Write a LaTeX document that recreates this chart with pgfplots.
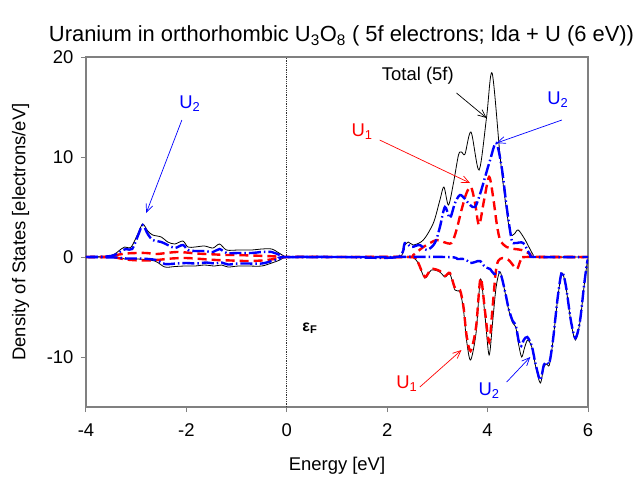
\documentclass[border=0pt]{standalone}
\usepackage{fontspec}
\setmainfont{Liberation Sans}
\usepackage{pgfplots}
\pgfplotsset{compat=1.18}
\usetikzlibrary{arrows.meta}
\definecolor{frame}{RGB}{128,128,128}
\definecolor{uone}{RGB}{255,0,0}
\definecolor{utwo}{RGB}{0,0,255}
\newcommand{\lbl}{\fontsize{18.5}{22}\selectfont}
\tikzset{note/.style={-{Straight Barb[length=8bp,width=7bp]}, line width=0.7bp}}

\begin{document}
\begin{tikzpicture}
\begin{axis}[
    scale only axis, width=502bp, height=350bp,
    xmin=-4, xmax=6, ymin=-15, ymax=20,
    xtick={-4,-2,0,2,4,6}, xticklabels={-4,-2,0,2,4,6},
    ytick={-10,0,10,20}, yticklabels={-10,0,10,20},
    tick pos=left, tick align=outside, major tick length=5bp,
    axis line style={frame, line width=1.2bp},
    every tick/.style={frame, line width=1bp},
    tick label style={font=\lbl},
    xticklabel style={yshift=-8bp},
    yticklabel style={xshift=-4bp},
    xlabel={Energy [eV]},
    ylabel={Density of States [electrons/eV]},
    every axis x label/.style={at={(axis description cs:0.5,-0.169)}, anchor=center, font=\lbl},
    every axis y label/.style={at={(axis description cs:-0.130,0.5)}, anchor=center, rotate=90, font=\lbl},
    title={Uranium in orthorhombic U\textsubscript{3}O\textsubscript{8} ( 5f electrons; lda + U (6 eV))},
    every axis title/.style={at={(axis description cs:0.509,1.06)}, anchor=center, font=\fontsize{22}{26}\selectfont},
    totalline/.style={black, line width=0.8bp, smooth, no marks},
    uoneline/.style={uone, line width=2.4bp, dash pattern=on 9bp off 5bp, smooth, no marks},
    utwoline/.style={utwo, line width=2.4bp, dash pattern=on 12bp off 3bp on 1.5bp off 3bp, smooth, no marks},
  ]
  % Fermi level
  \addplot[densely dotted, black!80, line width=0.8bp] coordinates {(0,-15) (0,20)};

  % total 5f, spin up
  \addplot[totalline] coordinates {
    (-4,0) (-3.6,0.05) (-3.43,0.3) (-3.3,0.8) (-3.23,1.0) (-3.10,1.0) (-2.96,2.4)
    (-2.87,3.3) (-2.77,2.6) (-2.67,2.2) (-2.50,2.0) (-2.37,1.5) (-2.23,1.3) (-2.07,1.6)
    (-1.97,1.0) (-1.83,1.0) (-1.64,1.1) (-1.47,0.9) (-1.34,1.3) (-1.20,0.7) (-0.97,0.7)
    (-0.70,0.7) (-0.50,0.8) (-0.30,0.8) (-0.14,0.35) (-0.04,0.05) (0,0) (1.0,0) (2.2,0)
    (2.32,1.0) (2.42,1.5) (2.52,1.2) (2.72,1.7) (2.92,3.4) (3.05,5.7) (3.13,7.0) (3.22,5.2)
    (3.32,7.4) (3.42,10.2) (3.48,10.5) (3.55,10.3) (3.67,12.5) (3.83,8.7) (3.98,14.0)
    (4.09,18.4) (4.25,10.0) (4.35,5.7) (4.45,2.4) (4.53,2.3) (4.61,2.7) (4.75,1.7)
    (4.91,0.2) (5.0,0) (6,0)
  };
  % total 5f, spin down
  \addplot[totalline] coordinates {
    (-4,0) (-3.4,0) (-3.23,-0.2) (-2.96,-0.2) (-2.63,-0.4) (-2.43,-1.0) (-2.23,-0.95)
    (-2.03,-0.9) (-1.83,-0.9) (-1.64,-0.8) (-1.44,-0.9) (-1.30,-0.8) (-1.17,-1.0)
    (-0.97,-0.9) (-0.77,-0.9) (-0.50,-0.9) (-0.30,-0.6) (-0.14,-0.3) (-0.04,0) (0,0)
    (1.2,0) (2.45,0) (2.52,-0.05) (2.62,-0.6) (2.75,-2.1) (2.88,-1.3) (3.05,-1.5)
    (3.15,-2.0) (3.25,-1.7) (3.35,-3.3) (3.45,-3.5) (3.52,-5.3) (3.58,-8.3) (3.66,-10.3)
    (3.77,-7.6) (3.86,-2.2) (3.95,-6.0) (4.03,-9.8) (4.10,-6.5) (4.17,-3.0) (4.25,-1.5)
    (4.35,-3.6) (4.42,-5.3) (4.50,-6.6) (4.56,-7.0) (4.62,-8.8) (4.68,-10.0) (4.74,-9.0)
    (4.80,-8.3) (4.88,-9.0) (4.96,-11.0) (5.05,-12.6) (5.12,-11.0) (5.18,-10.7)
    (5.23,-10.8) (5.30,-8.5) (5.40,-4.0) (5.48,-1.6) (5.56,-3.0) (5.66,-6.5) (5.75,-8.3)
    (5.84,-6.5) (5.92,-3.0) (5.98,-0.7) (6,-0.3)
  };

  % U1, spin up
  \addplot[uoneline] coordinates {
    (-4,0) (-3.6,0) (-3.4,0.2) (-3.2,0.35) (-3.0,0.4) (-2.8,0.4) (-2.6,0.3) (-2.4,0.4)
    (-2.2,0.5) (-2.0,0.45) (-1.8,0.35) (-1.6,0.3) (-1.4,0.25) (-1.2,0.2) (-1.0,0.2)
    (-0.7,0.15) (-0.4,0.1) (-0.2,0.05) (0,0) (1.2,0) (2.4,0) (2.52,0.2) (2.72,1.0)
    (2.98,1.7) (3.12,1.5) (3.28,1.4) (3.38,2.7) (3.48,4.7) (3.58,6.4) (3.67,7.0)
    (3.75,5.4) (3.83,3.2) (3.93,5.7) (4.03,8.0) (4.11,6.0) (4.18,3.4) (4.25,1.7)
    (4.38,1.0) (4.54,0.8) (4.68,0.7) (4.85,0.3) (4.95,0) (6,0)
  };
  % U1, spin down
  \addplot[uoneline] coordinates {
    (-4,0) (-3.5,0) (-3.2,-0.25) (-2.9,-0.35) (-2.6,-0.3) (-2.3,-0.15) (-2.0,-0.1)
    (-1.7,-0.2) (-1.4,-0.3) (-1.1,-0.35) (-0.8,-0.4) (-0.5,-0.35) (-0.25,-0.2) (0,0)
    (1.2,0) (2.45,0) (2.55,-0.3) (2.62,-0.6) (2.75,-2.0) (2.88,-1.2) (3.05,-1.4)
    (3.15,-1.9) (3.25,-1.6) (3.35,-3.1) (3.45,-3.3) (3.52,-5.0) (3.58,-7.8) (3.66,-9.4)
    (3.77,-7.0) (3.86,-2.1) (3.95,-5.5) (4.03,-8.5) (4.10,-5.0) (4.16,-1.6) (4.21,-0.4)
    (4.30,-0.1) (4.42,-0.3) (4.52,-0.9) (4.59,-1.2) (4.66,-0.3) (4.75,0) (6,0)
  };

  % U2, spin up
  \addplot[utwoline] coordinates {
    (-4,0) (-3.6,0.05) (-3.43,0.2) (-3.3,0.6) (-3.20,0.8) (-3.08,0.8) (-2.96,2.2)
    (-2.87,3.2) (-2.77,2.3) (-2.67,1.7) (-2.50,1.5) (-2.37,1.2) (-2.23,0.9) (-2.07,1.2)
    (-1.97,0.7) (-1.83,0.6) (-1.64,0.6) (-1.47,0.5) (-1.34,0.8) (-1.20,0.4) (-0.97,0.4)
    (-0.70,0.4) (-0.50,0.5) (-0.30,0.5) (-0.14,0.2) (0,0) (1.1,0) (2.2,0) (2.35,1.4)
    (2.48,1.0) (2.65,1.2) (2.79,0.7) (2.95,1.4) (3.05,3.0) (3.15,5.0) (3.25,3.9)
    (3.35,5.4) (3.45,6.2) (3.55,5.8) (3.65,5.2) (3.75,5.0) (3.85,6.3) (3.95,8.0)
    (4.05,9.7) (4.17,11.4) (4.28,9.0) (4.38,5.0) (4.48,1.7) (4.55,1.4) (4.71,1.4)
    (4.85,0.2) (4.95,0) (6,0)
  };
  % U2, spin down
  \addplot[utwoline] coordinates {
    (-4,0) (-3.4,-0.05) (-3.2,-0.15) (-2.9,-0.15) (-2.6,-0.3) (-2.43,-0.7) (-2.2,-0.65)
    (-2.0,-0.6) (-1.8,-0.65) (-1.6,-0.55) (-1.44,-0.65) (-1.3,-0.55) (-1.17,-0.75)
    (-0.97,-0.65) (-0.77,-0.65) (-0.5,-0.65) (-0.3,-0.4) (-0.14,-0.15) (0,0) (1.6,0)
    (3.2,0) (3.4,-0.2) (3.55,-0.2) (3.65,-0.6) (3.75,-0.5) (3.85,-0.4) (3.95,-1.0)
    (4.05,-1.2) (4.13,-1.7) (4.25,-1.6) (4.35,-3.5) (4.42,-5.2) (4.50,-6.4) (4.56,-6.8)
    (4.62,-8.4) (4.67,-8.9) (4.72,-8.3) (4.79,-8.0) (4.88,-8.9) (4.96,-10.8)
    (5.05,-12.3) (5.12,-10.8) (5.18,-10.5) (5.23,-10.6) (5.30,-8.4) (5.40,-3.9)
    (5.48,-1.5) (5.56,-2.9) (5.66,-6.4) (5.75,-8.1) (5.84,-6.4) (5.92,-2.9) (5.98,-0.6)
    (6,-0.3)
  };

  % annotations
  \node[utwo, font=\lbl] at (axis cs:-1.93,15.3) {U\textsubscript{2}};
  \draw[note, utwo] (axis cs:-2.09,13.7) -- (axis cs:-2.80,4.4);
  \node[black, font=\lbl] at (axis cs:2.61,18.1) {Total (5f)};
  \draw[note, black] (axis cs:3.38,16.4) -- (axis cs:3.98,13.9);
  \node[utwo, font=\lbl] at (axis cs:5.40,15.7) {U\textsubscript{2}};
  \draw[note, utwo] (axis cs:5.48,13.7) -- (axis cs:4.18,11.4);
  \node[uone, font=\lbl] at (axis cs:1.50,12.5) {U\textsubscript{1}};
  \draw[note, uone] (axis cs:1.85,11.7) -- (axis cs:3.65,7.4);
  \node[uone, font=\lbl] at (axis cs:2.39,-12.7) {U\textsubscript{1}};
  \draw[note, uone] (axis cs:2.65,-13.0) -- (axis cs:3.48,-9.3);
  \node[utwo, font=\lbl] at (axis cs:4.03,-13.4) {U\textsubscript{2}};
  \draw[note, utwo] (axis cs:4.38,-12.5) -- (axis cs:4.85,-10.0);
  \node[black, font=\fontsize{16}{18}\selectfont] at (axis cs:0.46,-7.1) {\textbf{ε\textsubscript{F}}};

  \coordinate (bbsw) at (rel axis cs:-0.1713,-0.2029);
  \coordinate (bbne) at (rel axis cs:1.0996,1.1629);
\end{axis}
\pgfresetboundingbox
\useasboundingbox (bbsw) rectangle (bbne);
\end{tikzpicture}
\end{document}
